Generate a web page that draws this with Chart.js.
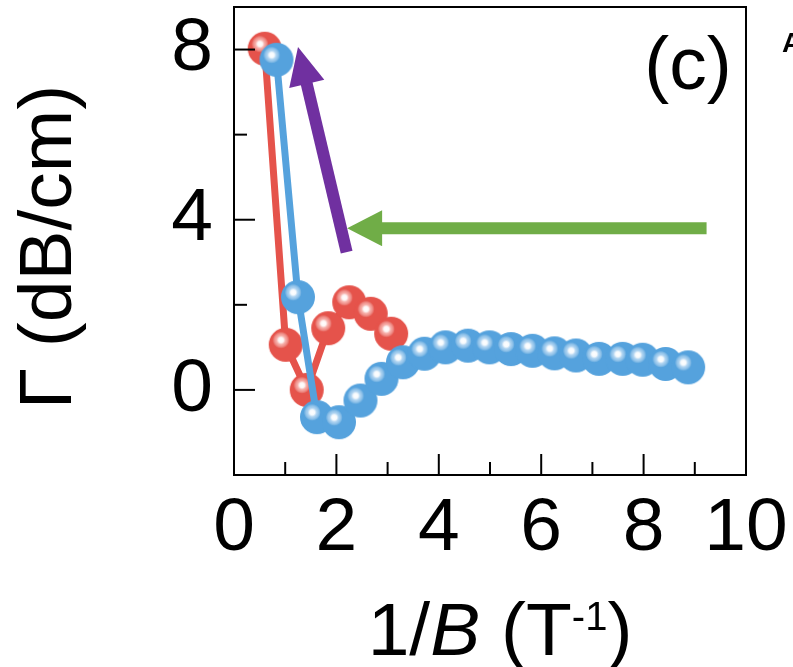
<!DOCTYPE html>
<html>
<head>
<meta charset="utf-8">
<script src="https://cdn.jsdelivr.net/npm/chart.js@4.4.1/dist/chart.umd.min.js"></script>
<style>
  html, body { margin: 0; padding: 0; background: #fff; }
  #grafico { display: block; }
</style>
</head>
<body>
<canvas id="grafico" width="793" height="667"></canvas>
<script>
/* ---------- dados ---------- */
const vermelhoX = [0.60, 1.01, 1.42, 1.84, 2.25, 2.67, 3.07];
const vermelhoY = [8.02, 1.06, 0.00, 1.45, 2.06, 1.79, 1.32];

const azulX = [0.83, 1.25, 1.62, 2.05, 2.47, 2.88, 3.30, 3.72, 4.13, 4.57,
               4.99, 5.41, 5.83, 6.26, 6.68, 7.13, 7.59, 7.98, 8.43, 8.87];
const azulY = [7.76, 2.18, -0.64, -0.76, -0.25, 0.26, 0.65, 0.85, 1.00, 1.04,
               1.00, 0.96, 0.92, 0.86, 0.81, 0.73, 0.73, 0.71, 0.61, 0.53];

const ticksX = [0, 2, 4, 6, 8, 10];
const ticksY = [0, 4, 8];

// setas (em unidades dos eixos): [cauda, ponta]
const setaRoxa  = [[2.20, 3.24], [1.25, 8.06]];
const setaVerde = [[9.23, 3.80], [2.21, 3.80]];

const FONTE = '"Liberation Sans", Arial, sans-serif';
const VERMELHO = '#E5534B';
const AZUL = '#55A2DD';

/* ---------- bolinha com brilho (pointStyle) ---------- */
function criarEsfera(cor, claro, r) {
    const c = document.createElement('canvas');
    const s = Math.ceil(r * 2 + 2);
    c.width = s; c.height = s;
    const g = c.getContext('2d');
    const cx = s / 2, cy = s / 2;
    g.fillStyle = cor;
    g.beginPath(); g.arc(cx, cy, r, 0, Math.PI * 2); g.fill();
    const hx = cx - r * 0.28, hy = cy - r * 0.28;
    const rad = g.createRadialGradient(hx, hy, 0, hx, hy, r * 0.5);
    rad.addColorStop(0, 'rgba(255,255,255,1)');
    rad.addColorStop(0.3, 'rgba(255,255,255,0.95)');
    rad.addColorStop(0.55, claro);
    rad.addColorStop(1, 'rgba(255,255,255,0)');
    g.fillStyle = rad;
    g.beginPath(); g.arc(hx, hy, r * 0.5, 0, Math.PI * 2); g.fill();
    return c;
}
const esferaVermelha = criarEsfera(VERMELHO, 'rgba(250,190,185,0.8)', 17);
const esferaAzul = criarEsfera(AZUL, 'rgba(190,220,245,0.8)', 17);

function pares(xs, ys) { return xs.map((x, i) => ({ x: x, y: ys[i] })); }

/* ---------- moldura, ticks internos, títulos e setas ---------- */
function desenharSeta(ctx, sx, sy, p, cor, largura, compCabeca, meiaCabeca) {
    const x0 = sx.getPixelForValue(p[0][0]), y0 = sy.getPixelForValue(p[0][1]);
    const x1 = sx.getPixelForValue(p[1][0]), y1 = sy.getPixelForValue(p[1][1]);
    const ang = Math.atan2(y1 - y0, x1 - x0);
    const bx = x1 - Math.cos(ang) * compCabeca, by = y1 - Math.sin(ang) * compCabeca;
    ctx.save();
    ctx.strokeStyle = cor; ctx.fillStyle = cor;
    ctx.lineWidth = largura; ctx.lineCap = 'butt';
    ctx.beginPath(); ctx.moveTo(x0, y0); ctx.lineTo(bx + Math.cos(ang) * 2, by + Math.sin(ang) * 2); ctx.stroke();
    const nx = -Math.sin(ang), ny = Math.cos(ang);
    ctx.beginPath();
    ctx.moveTo(x1, y1);
    ctx.lineTo(bx + nx * meiaCabeca, by + ny * meiaCabeca);
    ctx.lineTo(bx - nx * meiaCabeca, by - ny * meiaCabeca);
    ctx.closePath(); ctx.fill();
    ctx.restore();
}

const pluginMoldura = {
    id: 'moldura',
    afterDatasetsDraw(chart) {
        const { ctx, scales: { x, y } } = chart;
        desenharSeta(ctx, x, y, setaVerde, '#70AD47', 12, 35, 18);
        desenharSeta(ctx, x, y, setaRoxa, '#7030A0', 12, 38, 18);
    },
    afterDraw(chart) {
        const { ctx, chartArea: a, scales: { x, y } } = chart;
        ctx.save();
        ctx.strokeStyle = '#000';
        ctx.lineWidth = 2;
        ctx.strokeRect(a.left, a.top, a.right - a.left, a.bottom - a.top);
        // ticks internos do eixo x (maior nos pares)
        for (let v = 1; v < 10; v++) {
            const px = x.getPixelForValue(v);
            const len = v % 2 === 0 ? 21 : 13;
            ctx.beginPath(); ctx.moveTo(px, a.bottom); ctx.lineTo(px, a.bottom - len); ctx.stroke();
        }
        // ticks internos do eixo y
        for (let v = 0; v <= 8; v += 2) {
            const py = y.getPixelForValue(v);
            const len = v % 4 === 0 ? 21 : 13;
            ctx.beginPath(); ctx.moveTo(a.left, py); ctx.lineTo(a.left + len, py); ctx.stroke();
        }
        ctx.fillStyle = '#000';
        // rótulo (c)
        ctx.font = '75px ' + FONTE;
        ctx.textAlign = 'center'; ctx.textBaseline = 'alphabetic';
        ctx.fillText('(c)', 688, 89);
        // resto de um painel vizinho
        ctx.font = 'bold 28px ' + FONTE;
        ctx.textAlign = 'left';
        ctx.fillText('A', 782, 52);
        // título do eixo y
        ctx.save();
        ctx.translate(71, 247);
        ctx.rotate(-Math.PI / 2);
        ctx.font = '75px ' + FONTE;
        ctx.textAlign = 'center';
        ctx.fillText('\u0393 (dB/cm)', 0, 0);
        ctx.restore();
        // título do eixo x: 1/B (T^-1)
        const partes = [
            { t: '1/', f: '75px ' + FONTE, dy: 0 },
            { t: 'B', f: 'italic 75px ' + FONTE, dy: 0 },
            { t: ' (T', f: '75px ' + FONTE, dy: 0 },
            { t: '-1', f: '40px ' + FONTE, dy: -25 },
            { t: ')', f: '75px ' + FONTE, dy: 0 }
        ];
        let total = 0;
        partes.forEach(p => { ctx.font = p.f; p.w = ctx.measureText(p.t).width; total += p.w; });
        let cx = 500 - total / 2;
        ctx.textAlign = 'left';
        partes.forEach(p => { ctx.font = p.f; ctx.fillText(p.t, cx, 655 + p.dy); cx += p.w; });
        ctx.restore();
    }
};

/* ---------- gráfico ---------- */
new Chart(document.getElementById('grafico').getContext('2d'), {
    type: 'line',
    data: {
        datasets: [
            {
                data: pares(azulX, azulY),
                borderColor: AZUL, borderWidth: 7,
                pointStyle: esferaAzul, pointRadius: 17,
                tension: 0, clip: false
            },
            {
                data: pares(vermelhoX, vermelhoY),
                borderColor: VERMELHO, borderWidth: 7,
                pointStyle: esferaVermelha, pointRadius: 17,
                tension: 0, clip: false
            }
        ]
    },
    options: {
        responsive: false,
        animation: false,
        layout: { autoPadding: false, padding: { left: 0, right: 47, top: 7, bottom: 0 } },
        plugins: { legend: { display: false }, tooltip: { enabled: false } },
        scales: {
            x: {
                type: 'linear', min: 0, max: 10,
                afterBuildTicks: s => { s.ticks = ticksX.map(v => ({ value: v })); },
                ticks: {
                    autoSkip: false, maxRotation: 0, padding: 9, color: '#000',
                    font: { family: FONTE, size: 75 }
                },
                grid: { display: false, drawTicks: false },
                border: { display: false },
                afterFit: s => { s.height = 192; s.paddingLeft = 0; s.paddingRight = 0; }
            },
            y: {
                type: 'linear', min: -2, max: 9,
                afterBuildTicks: s => { s.ticks = ticksY.map(v => ({ value: v })); },
                ticks: {
                    autoSkip: false, padding: 21, color: '#000',
                    font: { family: FONTE, size: 75 }
                },
                grid: { display: false, drawTicks: false },
                border: { display: false },
                afterFit: s => { s.width = 234; s.paddingTop = 0; s.paddingBottom = 0; }
            }
        }
    },
    plugins: [pluginMoldura]
});
</script>
</body>
</html>
